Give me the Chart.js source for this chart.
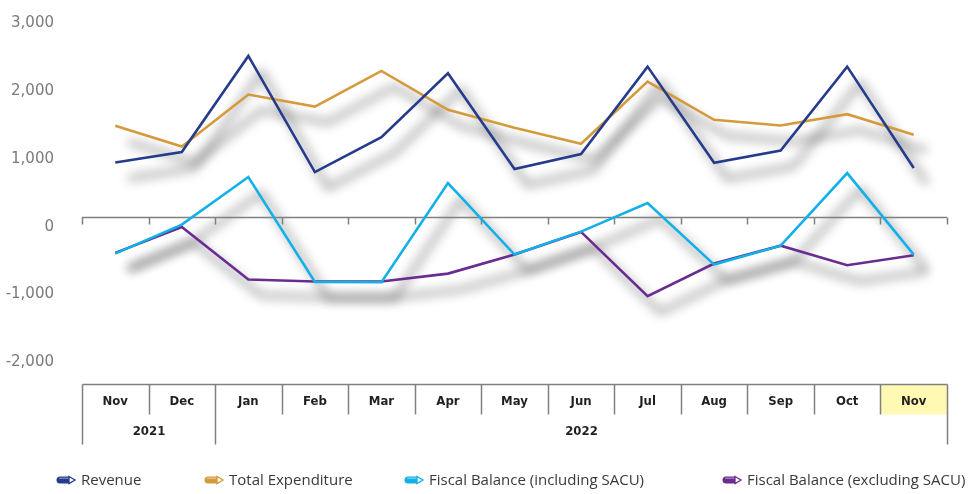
<!DOCTYPE html>
<html>
<head>
<meta charset="utf-8">
<script src="https://cdn.jsdelivr.net/npm/chart.js@4.4.1/dist/chart.umd.min.js"></script>
<style>
  body { margin: 0; background: #fff; }
  #wrap { width: 975px; height: 494px; position: relative; }
</style>
</head>
<body>
<div id="wrap"><canvas id="myChart"></canvas></div>
<script>
// category axis (two levels)
let months = ['Nov', 'Dec', 'Jan', 'Feb', 'Mar', 'Apr', 'May', 'Jun', 'Jul', 'Aug', 'Sep', 'Oct', 'Nov'];
let year_labels = ['2021', '2022'];
let year_spans = [2, 11];
let highlight_index = 12;

// series values
let revenue = [813, 966, 2382, 672, 1187, 2128, 716, 937, 2225, 809, 990, 2225, 731];
let expenditure = [1353, 1049, 1813, 1637, 2162, 1588, 1324, 1088, 2004, 1441, 1357, 1525, 1221];
let fb_incl = [-529, -103, 599, -946, -951, 510, -544, -206, 216, -691, -412, 657, -544];
let fb_excl = [-519, -137, -912, -941, -941, -824, -544, -210, -1157, -676, -412, -701, -554];

let y_ticks = [-2000, -1000, 0, 1000, 2000, 3000];

let legend_x = [57, 205, 405, 723];

// zero axis + drop shadows under the lines
const shadowPlugin = {
    id: 'shadowPlugin',
    beforeDatasetsDraw(chart) {
        const ctx = chart.ctx;
        const area = chart.chartArea;
        const xs = chart.scales.x;
        const y0 = Math.round(chart.scales.y.getPixelForValue(0)) - 0.5;
        const step = xs.getPixelForValue(1) - xs.getPixelForValue(0);

        // shadows first, drawn off-canvas so only the shadow lands
        const far = 10000;
        chart.data.datasets.forEach((ds, i) => {
            const meta = chart.getDatasetMeta(i);
            const pts = meta.data;
            ctx.save();
            ctx.translate(-far, 0);
            ctx.shadowColor = 'rgba(0,0,0,0.38)';
            ctx.shadowBlur = 11;
            ctx.shadowOffsetX = far + 13;
            ctx.shadowOffsetY = 16;
            ctx.strokeStyle = '#000';
            ctx.lineWidth = 5;
            ctx.lineJoin = 'round';
            ctx.beginPath();
            pts.forEach((p, k) => { if (k == 0) ctx.moveTo(p.x, p.y); else ctx.lineTo(p.x, p.y); });
            ctx.stroke();
            ctx.restore();
        });

        // zero line with tick marks at category boundaries
        ctx.save();
        ctx.strokeStyle = '#7f7f7f';
        ctx.lineWidth = 1.5;
        ctx.beginPath();
        ctx.moveTo(area.left, y0);
        ctx.lineTo(area.right, y0);
        for (let i = 0; i <= months.length; i++) {
            let bx = Math.round(xs.getPixelForValue(0) - step / 2 + i * step) + 0.5;
            ctx.moveTo(bx, y0);
            ctx.lineTo(bx, y0 + 7);
        }
        ctx.stroke();
        ctx.restore();
    }
};

// category table under the plot + legend
const tablePlugin = {
    id: 'tablePlugin',
    afterDraw(chart) {
        const ctx = chart.ctx;
        const xs = chart.scales.x;
        const area = chart.chartArea;
        const step = xs.getPixelForValue(1) - xs.getPixelForValue(0);
        const left = xs.getPixelForValue(0) - step / 2;
        const top = Math.round(area.bottom) + 0.5;
        const row = 30;
        const bx = (i) => Math.round(left + i * step) + 0.5;

        ctx.save();
        // highlighted cell
        ctx.fillStyle = '#fff9b4';
        ctx.fillRect(bx(highlight_index), top, bx(highlight_index + 1) - bx(highlight_index), row);

        ctx.strokeStyle = '#808080';
        ctx.lineWidth = 1.5;
        ctx.beginPath();
        ctx.moveTo(bx(0), top);
        ctx.lineTo(bx(months.length), top);
        let year_edges = [0];
        let acc = 0;
        year_spans.forEach(s => { acc += s; year_edges.push(acc); });
        for (let i = 0; i <= months.length; i++) {
            let h = year_edges.includes(i) ? row * 2 : row;
            ctx.moveTo(bx(i), top);
            ctx.lineTo(bx(i), top + h);
        }
        ctx.stroke();

        ctx.fillStyle = '#231f20';
        ctx.font = 'bold 13px "Liberation Sans Narrow", "DejaVu Sans Condensed", sans-serif';
        ctx.textAlign = 'center';
        ctx.textBaseline = 'middle';
        months.forEach((m, i) => {
            ctx.fillText(m, xs.getPixelForValue(i), top + 17);
        });
        year_labels.forEach((y, k) => {
            let cx = (bx(year_edges[k]) + bx(year_edges[k + 1])) / 2;
            ctx.fillText(y, cx, top + 47);
        });

        // legend
        const ly = 480;
        ctx.font = '15px "Open Sans", "Noto Sans", sans-serif';
        ctx.textAlign = 'left';
        chart.data.datasets.forEach((ds, i) => {
            let x = legend_x[i];
            let c = ds.borderColor;
            // pencil-like icon
            ctx.fillStyle = c;
            ctx.beginPath();
            ctx.moveTo(x + 12, ly - 3.5);
            ctx.lineTo(x + 3, ly - 3.5);
            ctx.arc(x + 3, ly, 3.5, -Math.PI / 2, Math.PI / 2, true);
            ctx.lineTo(x + 12, ly + 3.5);
            ctx.closePath();
            ctx.fill();
            ctx.fillStyle = 'rgba(255,255,255,0.35)';
            ctx.fillRect(x + 2, ly - 2.5, 10, 1.5);
            ctx.fillStyle = '#fff';
            ctx.strokeStyle = c;
            ctx.lineWidth = 1.3;
            ctx.beginPath();
            ctx.moveTo(x + 12, ly - 3.5);
            ctx.lineTo(x + 18, ly);
            ctx.lineTo(x + 12, ly + 3.5);
            ctx.closePath();
            ctx.fill();
            ctx.stroke();

            ctx.fillStyle = '#3a3a3a';
            ctx.fillText(ds.label, x + 24, ly + 1);
        });
        ctx.restore();
    }
};

var ctx = document.getElementById('myChart');
var chart = new Chart(ctx, {
    type: 'line',
    data: {
        labels: months,
        datasets: [
            { label: 'Revenue', data: revenue, borderColor: '#253b8b' },
            { label: 'Total Expenditure', data: expenditure, borderColor: '#d49a3c' },
            { label: 'Fiscal Balance (including SACU)', data: fb_incl, borderColor: '#12b0e8' },
            { label: 'Fiscal Balance (excluding SACU)', data: fb_excl, borderColor: '#6a2c90' },
        ]
    },
    options: {
        responsive: true,
        maintainAspectRatio: false,
        animation: false,
        layout: { padding: { left: 0, right: 28, top: 14, bottom: 110 } },
        elements: {
            line: { borderWidth: 2.6, tension: 0, fill: false, borderJoinStyle: 'miter' },
            point: { radius: 0, hoverRadius: 0 }
        },
        scales: {
            x: {
                display: false,
                offset: true
            },
            y: {
                min: -2450,
                max: 3000,
                grid: { display: false },
                border: { display: false },
                afterBuildTicks: (scale) => { scale.ticks = y_ticks.map(v => ({ value: v })); },
                afterFit: (scale) => {
                    scale.width = 82;
                    scale.paddingTop = 0;
                    scale.paddingBottom = 0;
                },
                ticks: {
                    color: '#7a7a7a',
                    font: { family: 'DejaVu Sans', size: 15 },
                    padding: 20,
                    labelOffset: 9,
                    callback: (v) => v.toLocaleString('en-US')
                }
            }
        },
        plugins: {
            legend: { display: false },
            tooltip: { enabled: false }
        }
    },
    plugins: [shadowPlugin, tablePlugin]
});
</script>
</body>
</html>
